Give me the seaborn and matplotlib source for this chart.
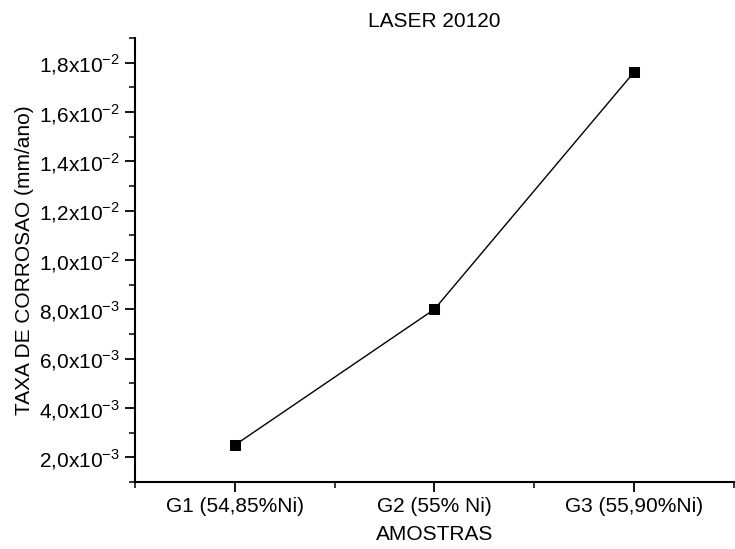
import matplotlib
matplotlib.use("Agg")
import matplotlib.pyplot as plt
import seaborn as sns
import pandas as pd
import math
from matplotlib.ticker import MultipleLocator, FuncFormatter

categories = ["G1 (54,85%Ni)", "G2 (55% Ni)", "G3 (55,90%Ni)"]
taxa = [2.5e-3, 8.0e-3, 1.76e-2]
title = "LASER 20120"
xlabel = "AMOSTRAS"
ylabel = "TAXA DE CORROSAO (mm/ano)"

sns.set_theme(style="ticks")
plt.rcParams['font.family'] = ['Liberation Sans', 'DejaVu Sans']
plt.rcParams['mathtext.fontset'] = 'custom'
plt.rcParams['mathtext.rm'] = 'Liberation Sans'
plt.rcParams['text.color'] = 'black'
plt.rcParams['axes.labelcolor'] = 'black'

df = pd.DataFrame({"x": range(len(categories)), "y": taxa})

fig = plt.figure(figsize=(7.35, 5.49), dpi=100)
ax = fig.add_axes([0.184, 0.122, 0.814, 0.809])
sns.lineplot(data=df, x="x", y="y", ax=ax, color="black", linewidth=1.0,
             marker="s", markersize=7, markeredgecolor="black", markerfacecolor="black")

ax.set_xlim(-0.5, 2.5)
ax.set_ylim(1.0e-3, 1.9e-2)
ax.set_xticks(range(len(categories)))
ax.set_xticklabels(categories)
ax.xaxis.set_minor_locator(MultipleLocator(0.5))
ax.yaxis.set_minor_locator(MultipleLocator(1e-3))

def fmt(v, pos):
    if v <= 0:
        return ""
    e = int(math.floor(math.log10(v) + 1e-9))
    m = v / 10**e
    return ("%.1f" % m).replace(".", ",") + "x10$^{%d}$" % e

ax.set_yticks([2e-3 * i for i in range(1, 10)])
ax.yaxis.set_major_formatter(FuncFormatter(fmt))

for s in ["top", "right"]:
    ax.spines[s].set_visible(False)
for s in ["left", "bottom"]:
    ax.spines[s].set_linewidth(1.5)
    ax.spines[s].set_color("black")

ax.tick_params(axis="both", which="major", direction="out", length=7, width=1.3,
               labelsize=15, colors="black", pad=4)
ax.tick_params(axis="both", which="minor", direction="out", length=4, width=1.1, colors="black")

ax.set_title(title, fontsize=15, pad=8, color="black")
ax.set_xlabel(xlabel, fontsize=15, labelpad=6)
ax.set_ylabel(ylabel, fontsize=15, labelpad=4)

fig.savefig("out.png", dpi=100, facecolor="white")
